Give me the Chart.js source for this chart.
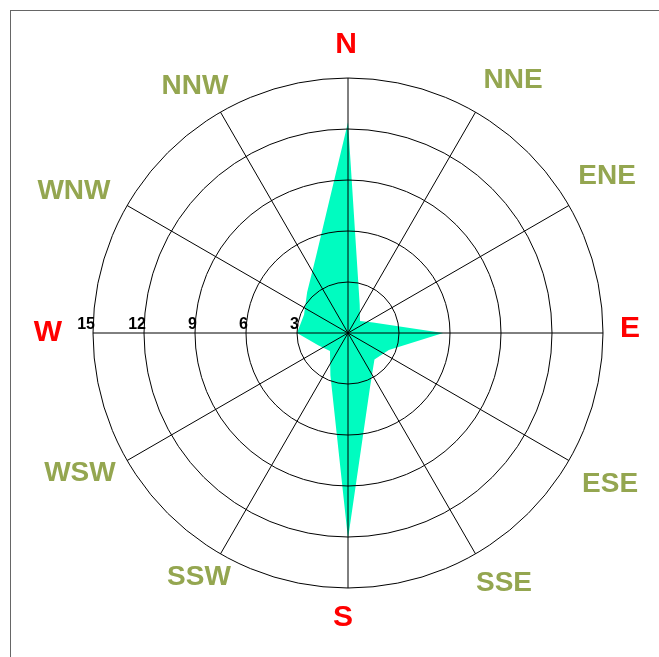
<!DOCTYPE html>
<html lang="en">
<head>
<meta charset="UTF-8">
<title>Wind Rose</title>
<script src="https://cdn.jsdelivr.net/npm/chart.js"></script>
<style>
    html, body { margin: 0; padding: 0; background: #fff; overflow: hidden; }
    .frame { position: absolute; left: 10px; top: 10px; width: 700px; height: 700px; border-left: 1px solid #666; border-top: 1px solid #666; }
    #roseChart { position: absolute; left: 0; top: 0; }
</style>
</head>
<body>
<div class="frame"></div>
<canvas id="roseChart" width="659" height="657"></canvas>
<script>
    const directions = ['N', 'NNE', 'NE', 'ENE', 'E', 'ESE', 'SE', 'SSE', 'S', 'SSW', 'SW', 'WSW', 'W', 'WNW', 'NW', 'NNW'];
    const frequency = [12.4, 1.8, 1.0, 1.6, 5.6, 2.6, 2.2, 3.4, 12.1, 2.7, 1.5, 1.9, 3.0, 2.8, 3.4, 4.9];
    // spokes are every 30 degrees, named like this on the original
    const spokeLabels = ['N', 'NNE', 'ENE', 'E', 'ESE', 'SSE', 'S', 'SSW', 'WSW', 'W', 'WNW', 'NNW'];
    const tickValues = [3, 6, 9, 12, 15];
    const cardinals = ['N', 'E', 'S', 'W'];

    // the original's labels are not quite on the spokes, small px nudges
    const labelNudge = {
        N: [-2, 0], NNE: [16, 5], ENE: [1, -8], E: [-6, -4], ESE: [4, 2], SSE: [7, -8],
        S: [-5, -3], SSW: [0, -14], WSW: [-10, -9], W: [-12, 0], WNW: [-16, 7], NNW: [-4, 11]
    };

    // 48 slots of 7.5 deg: data on every 3rd slot, spokes on every 4th
    const SLOTS = 48;
    const slotLabels = [];
    const slotData = [];
    for (let i = 0; i < SLOTS; i++) {
        slotLabels.push(i % 4 === 0 ? spokeLabels[i / 4] : '');
        slotData.push(i % 3 === 0 ? frequency[i / 3] : null);
    }

    const roseText = {
        id: 'roseText',
        afterDraw(chart) {
            const r = chart.scales.r;
            const ctx = chart.ctx;
            ctx.save();
            ctx.textAlign = 'center';
            ctx.textBaseline = 'middle';
            slotLabels.forEach((lab, i) => {
                if (!lab) return;
                const big = cardinals.includes(lab);
                const p = r.getPointPosition(i, r.drawingArea + (big ? 33 : 43));
                const n = labelNudge[lab] || [0, 0];
                ctx.font = big ? 'bold 30px "Liberation Sans", Arial, sans-serif' : 'bold 28px "Liberation Sans", Arial, sans-serif';
                ctx.fillStyle = big ? '#ff0000' : '#94a650';
                ctx.fillText(lab, p.x + n[0], p.y + n[1]);
            });

            // tick values sit along the west spoke
            ctx.font = 'bold 16px "Liberation Sans", Arial, sans-serif';
            ctx.fillStyle = '#000';
            ctx.textAlign = 'right';
            ctx.textBaseline = 'alphabetic';
            const west = slotLabels.indexOf('W');
            tickValues.forEach(v => {
                const p = r.getPointPositionForValue(west, v);
                ctx.fillText(String(v), p.x + 2, p.y - 4);
            });
            ctx.restore();
        }
    };

    new Chart(document.getElementById('roseChart'), {
        type: 'radar',
        data: {
            labels: slotLabels,
            datasets: [{
                data: slotData,
                backgroundColor: '#00fcc0',
                borderWidth: 0,
                pointRadius: 0,
                fill: true,
                spanGaps: true
            }]
        },
        options: {
            responsive: false,
            animation: false,
            layout: { padding: { left: 93, top: 78, right: 56, bottom: 69 } },
            plugins: { legend: { display: false }, tooltip: { enabled: false } },
            scales: {
                r: {
                    min: 0,
                    max: 15,
                    ticks: { stepSize: 3, display: false },
                    grid: { circular: true, color: '#000', lineWidth: 1, z: 1 },
                    angleLines: {
                        color: c => c.index % 4 === 0 ? '#000' : 'rgba(0,0,0,0)',
                        lineWidth: 1
                    },
                    pointLabels: { display: false }
                }
            }
        },
        plugins: [roseText]
    });
</script>
</body>
</html>
